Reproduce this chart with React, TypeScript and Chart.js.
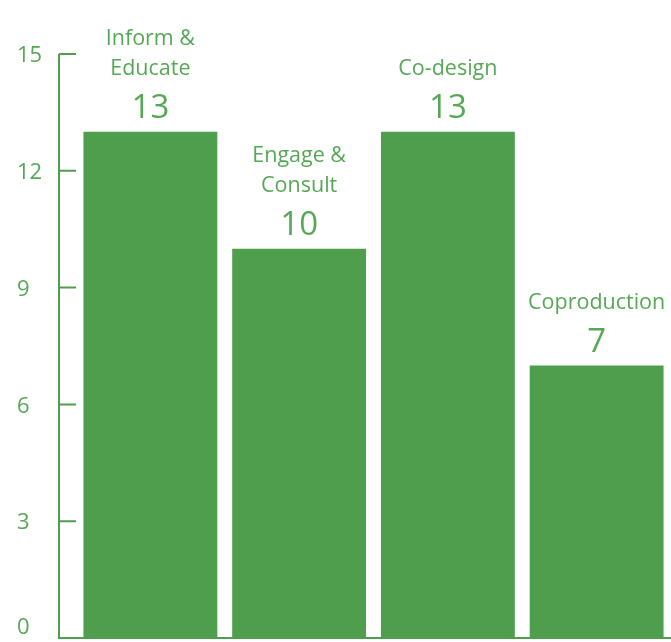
import React, { useEffect, useRef } from "react";
import { Chart, registerables } from "chart.js";

Chart.register(...registerables);

const categories: string[][] = [["Inform &", "Educate"], ["Engage &", "Consult"], ["Co-design"], ["Coproduction"]];
const values: number[] = [13, 10, 13, 7];
const yTicks: number[] = [0, 3, 6, 9, 12, 15];

const BAR = "#4f9e4e";
const TEXT = "#57a856";
const FONT = "'Open Sans', sans-serif";

const labelPlugin = {
  id: "barLabels",
  afterDatasetsDraw(chart: any) {
    const ctx = chart.ctx;
    const meta = chart.getDatasetMeta(0);
    ctx.save();
    ctx.fillStyle = TEXT;
    ctx.textAlign = "center";
    ctx.textBaseline = "middle";
    meta.data.forEach((bar: any, i: number) => {
      const x = bar.x;
      const y = bar.y;
      ctx.font = `33px ${FONT}`;
      ctx.fillText(String(values[i]), x, y - 23);
      ctx.font = `21.5px ${FONT}`;
      const lines = categories[i];
      lines.forEach((line, j) => {
        const off = (lines.length - 1 - j) * 30;
        ctx.fillText(line, x, y - 63 - off);
      });
    });
    ctx.restore();
  },
};

const axisPlugin = {
  id: "customAxis",
  afterDatasetsDraw(chart: any) {
    const ctx = chart.ctx;
    const y = chart.scales.y;
    const area = chart.chartArea;
    const axisX = area.left - 17;
    ctx.save();
    ctx.strokeStyle = BAR;
    ctx.lineWidth = 2;
    ctx.beginPath();
    ctx.moveTo(axisX, y.getPixelForValue(yTicks[yTicks.length - 1]));
    ctx.lineTo(axisX, y.getPixelForValue(0));
    ctx.lineTo(area.right, y.getPixelForValue(0));
    yTicks.forEach((t) => {
      if (t === 0) return;
      const py = y.getPixelForValue(t);
      ctx.moveTo(axisX, py);
      ctx.lineTo(area.left, py);
    });
    ctx.stroke();
    // tick labels
    ctx.fillStyle = TEXT;
    ctx.font = `22px ${FONT}`;
    ctx.textAlign = "left";
    ctx.textBaseline = "middle";
    yTicks.forEach((t) => {
      const py = Math.min(y.getPixelForValue(t) + 2, chart.height - 14);
      ctx.fillText(String(t), 17, py);
    });
    ctx.restore();
  },
};

export default function App() {
  const ref = useRef<HTMLCanvasElement>(null);
  useEffect(() => {
    if (!ref.current) return;
    const chart = new Chart(ref.current, {
      type: "bar",
      data: {
        labels: categories.map((c) => c.join(" ")),
        datasets: [
          {
            data: values,
            backgroundColor: BAR,
            borderWidth: 0,
            barPercentage: 0.9,
            categoryPercentage: 1.0,
          },
        ],
      },
      options: {
        animation: false,
        responsive: true,
        maintainAspectRatio: false,
        layout: { padding: { top: 54, bottom: 4, left: 17, right: 0 } },
        plugins: { legend: { display: false }, tooltip: { enabled: false } },
        scales: {
          x: { display: false },
          y: {
            min: 0,
            max: 15,
            afterFit(scale: any) {
              scale.width = 59;
              scale.paddingTop = 0;
              scale.paddingBottom = 0;
            },
            afterBuildTicks(scale: any) {
              scale.ticks = yTicks.map((v) => ({ value: v }));
            },
            grid: { display: false },
            border: { display: false },
            ticks: { display: false },
          },
        },
      },
      plugins: [labelPlugin, axisPlugin],
    });
    return () => chart.destroy();
  }, []);
  return (
    <div style={{ position: "absolute", left: 0, top: 0, width: 671, height: 642 }}>
      <canvas ref={ref} />
    </div>
  );
}
